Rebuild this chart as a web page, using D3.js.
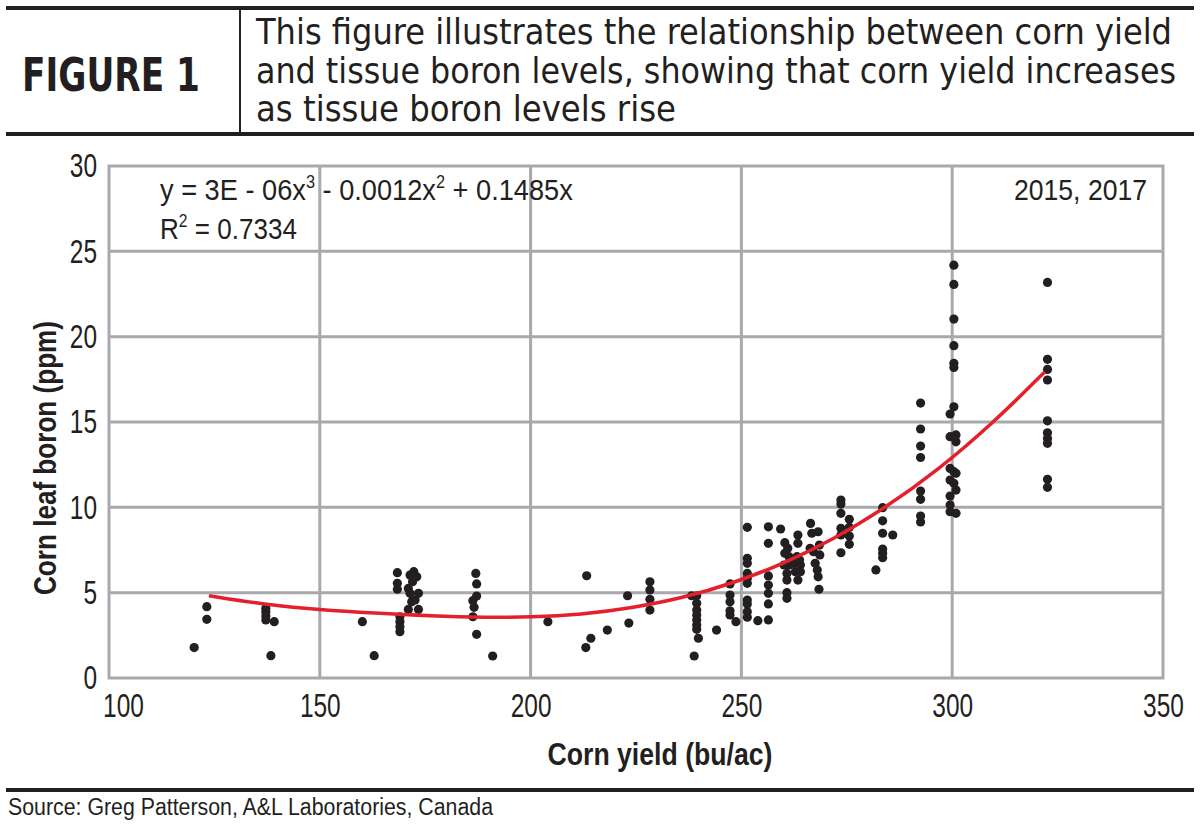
<!DOCTYPE html>
<html><head><meta charset="utf-8">
<script src="https://cdn.jsdelivr.net/npm/d3@7"></script>
<style>html,body{margin:0;padding:0;background:#fff;}svg{display:block;}</style>
</head><body>
<svg id="chart" width="1200" height="836"></svg>
<script>
// ---------- data ----------
const xTicks = [100, 150, 200, 250, 300, 350];
const yTicks = [0, 5, 10, 15, 20, 25, 30];

// Corn yield (bu/ac) and corn leaf boron (ppm), read point by point
const yieldBu = [
  120.2, 123.2, 123.2, 137.2, 137.2, 137.2, 137.2, 139.2, 138.4, 160.1, 162.9,
  168.4, 168.4, 168.4, 169.0, 169.0, 169.0, 169.0,
  171.4, 172.3, 173.0, 172.0, 171.0, 171.4, 173.4, 171.8, 172.6, 171.0, 173.4,
  187.0, 187.2, 187.2, 186.3, 186.6, 186.3, 187.2, 191.0,
  204.1, 213.3, 213.1, 214.3, 218.2, 223.0, 223.3, 228.3, 228.3, 228.3, 228.3,
  238.2, 239.4, 239.4, 239.4, 239.4, 239.4, 239.4, 239.4, 239.8, 238.8, 244.1,
  247.3, 247.3, 247.3, 247.3, 247.3, 248.7,
  251.4, 251.4, 251.4, 251.4, 251.4, 251.4, 251.4, 251.4, 251.4, 251.4, 253.9,
  256.4, 256.4, 256.4, 256.4, 256.4, 256.4, 256.4, 259.3,
  260.3, 261.0, 260.3, 261.3, 260.1, 261.3, 260.8, 260.8, 260.8, 260.8,
  263.4, 263.4, 263.2, 263.8, 262.4, 264.0, 262.8, 264.0, 263.4,
  266.4, 266.7, 268.2, 268.5, 266.3, 267.1, 268.6, 267.5, 268.0, 268.2, 268.4,
  273.6, 273.6, 273.6, 273.6, 273.6, 273.6, 275.6, 275.6, 275.6, 275.6, 281.9,
  283.5, 283.5, 283.5, 283.5, 283.5, 283.5, 285.9,
  292.5, 292.5, 292.5, 292.5, 292.5, 292.5, 292.5, 292.5,
  300.4, 300.4, 300.4, 300.4, 300.4, 300.4, 300.4, 299.5, 299.5, 300.9, 300.9,
  299.5, 300.4, 300.9, 299.5, 300.4, 300.9, 299.5, 299.5, 299.5, 300.9,
  322.6, 322.6, 322.6, 322.6, 322.6, 322.6, 322.6, 322.6, 322.6, 322.6
];
const boronPpm = [
  1.78, 4.18, 3.44, 4.08, 3.88, 3.63, 3.40, 3.30, 1.31, 3.30, 1.31,
  6.17, 5.55, 5.20, 3.59, 3.30, 3.01, 2.71,
  6.03, 6.23, 5.93, 5.64, 5.25, 4.96, 4.96, 4.47, 4.57, 4.02, 4.02,
  6.13, 5.51, 4.80, 4.53, 4.14, 3.59, 2.56, 1.29,
  3.30, 5.99, 1.78, 2.33, 2.81, 4.82, 3.22, 5.64, 5.16, 4.61, 3.98,
  4.82, 4.82, 4.38, 3.98, 3.69, 3.40, 3.10, 2.85, 2.33, 1.29, 2.81,
  5.51, 4.86, 4.47, 3.94, 3.69, 3.30,
  8.83, 7.01, 6.72, 6.13, 5.84, 5.55, 4.57, 4.34, 3.88, 3.56, 3.36,
  8.86, 7.89, 5.98, 5.45, 4.96, 4.34, 3.40, 8.73,
  7.93, 7.60, 7.31, 7.11, 6.62, 6.62, 6.13, 5.74, 5.00, 4.67,
  8.38, 7.89, 7.11, 6.91, 6.72, 6.62, 6.23, 6.23, 5.74,
  9.06, 8.48, 8.57, 7.79, 7.60, 7.40, 7.21, 6.72, 6.33, 5.93, 5.20,
  10.43, 10.19, 9.65, 8.77, 8.38, 7.34, 9.30, 8.83, 8.32, 7.83, 6.33,
  9.98, 9.21, 8.48, 7.56, 7.31, 7.05, 8.38,
  16.11, 14.59, 13.59, 12.92, 10.95, 10.47, 9.49, 9.14,
  24.19, 23.06, 21.03, 19.47, 18.44, 18.20, 15.89, 15.47, 14.14, 14.24, 13.84,
  12.28, 12.09, 11.99, 11.60, 11.41, 11.01, 10.66, 10.13, 9.74, 9.65,
  23.18, 18.67, 18.08, 17.46, 15.07, 14.37, 14.04, 13.75, 11.64, 11.17
];

// Trend line as drawn
const trendX = [123.7, 137, 150, 163, 176, 190, 200, 212, 224, 236, 248, 260, 272, 284, 296, 310, 322];
const trendY = [4.82, 4.30, 4.00, 3.80, 3.64, 3.55, 3.56, 3.72, 4.10, 4.68, 5.55, 6.70, 8.15, 9.95, 12.05, 15.00, 17.95];

const titleLines = [
  "This figure illustrates the relationship between corn yield",
  "and tissue boron levels, showing that corn yield increases",
  "as tissue boron levels rise"
];

// ---------- drawing ----------
const svg = d3.select("#chart");
const narrow = "'Liberation Sans Narrow','Arial Narrow','Liberation Sans',Arial,sans-serif";
const headFont = "'DejaVu Sans Condensed','Liberation Sans Narrow',sans-serif";
const ink = "#231f20";
const grid = "#a7a9ac";

// squeeze a text horizontally (narrow-font look) keeping its anchor
function condense(sel, k) {
  sel.each(function () {
    const w = this.getComputedTextLength();
    d3.select(this).attr("textLength", w * k).attr("lengthAdjust", "spacingAndGlyphs");
  });
}

const x = d3.scaleLinear().domain([100, 350]).range([109, 1163]);
const y = d3.scaleLinear().domain([0, 30]).range([678, 166]);

// header
svg.append("rect").attr("x", 6).attr("y", 6).attr("width", 1188).attr("height", 4).attr("fill", ink);
svg.append("rect").attr("x", 6).attr("y", 132).attr("width", 1188).attr("height", 4).attr("fill", ink);
svg.append("rect").attr("x", 239).attr("y", 10).attr("width", 2).attr("height", 122).attr("fill", ink);
svg.append("text").attr("x", 22).attr("y", 91).attr("font-family", headFont)
  .attr("font-weight", 900).attr("font-size", 46).attr("fill", ink)
  .attr("textLength", 178).attr("lengthAdjust", "spacingAndGlyphs").text("FIGURE 1");
const lineW = [916, 920, 420];
const lineY = [44, 83, 121];
titleLines.forEach((t, i) => {
  svg.append("text").attr("x", 256).attr("y", lineY[i]).attr("font-family", headFont)
    .attr("font-size", 35).attr("fill", ink)
    .attr("textLength", lineW[i]).attr("lengthAdjust", "spacingAndGlyphs").text(t);
});

// grid
const g = svg.append("g");
g.selectAll("line.v").data(xTicks.slice(1, -1)).join("line")
  .attr("x1", d => x(d)).attr("x2", d => x(d)).attr("y1", y(30)).attr("y2", y(0))
  .attr("stroke", grid).attr("stroke-width", 3);
g.selectAll("line.h").data(yTicks.slice(1, -1)).join("line")
  .attr("y1", d => y(d)).attr("y2", d => y(d)).attr("x1", x(100)).attr("x2", x(350))
  .attr("stroke", grid).attr("stroke-width", 3);
g.append("rect").attr("x", x(100)).attr("y", y(30)).attr("width", x(350) - x(100)).attr("height", y(0) - y(30))
  .attr("fill", "none").attr("stroke", grid).attr("stroke-width", 3);

// axes (labels only)
const xAxis = svg.append("g").attr("transform", `translate(0,${y(0)})`)
  .call(d3.axisBottom(x).tickValues(xTicks).tickSize(0).tickPadding(15));
const yAxis = svg.append("g").attr("transform", `translate(${x(100)},0)`)
  .call(d3.axisLeft(y).tickValues(yTicks).tickSize(0).tickPadding(12));
[xAxis, yAxis].forEach(a => {
  a.select(".domain").remove();
  a.selectAll("text").attr("font-family", narrow).attr("font-size", 34).attr("fill", ink);
});
xAxis.selectAll("text").attr("dy", "0.71em");
xAxis.selectAll("text").filter(d => d === 100).attr("dx", 14);
condense(xAxis.selectAll("text"), 0.72);
condense(yAxis.selectAll("text"), 0.72);

// axis titles
svg.append("text").attr("x", 660).attr("y", 765).attr("text-anchor", "middle")
  .attr("font-family", narrow).attr("font-weight", "bold").attr("font-size", 31).attr("fill", ink)
  .attr("textLength", 225).attr("lengthAdjust", "spacingAndGlyphs").text("Corn yield (bu/ac)");
svg.append("text").attr("transform", "translate(56,458) rotate(-90)").attr("text-anchor", "middle")
  .attr("font-family", narrow).attr("font-weight", "bold").attr("font-size", 31).attr("fill", ink)
  .attr("textLength", 274).attr("lengthAdjust", "spacingAndGlyphs").text("Corn leaf boron (ppm)");

// equation & years
function fitGroup(gx, gy, targetW, build) {
  const gg = svg.append("g");
  const t = gg.append("text").attr("x", 0).attr("y", 0).attr("font-family", narrow)
    .attr("font-size", 30).attr("fill", ink);
  build(t);
  const w = t.node().getBBox().width;
  gg.attr("transform", `translate(${gx},${gy}) scale(${targetW / w},1)`);
  return gg;
}
fitGroup(160, 200, 413, t => {
  t.append("tspan").text("y = 3E - 06x");
  t.append("tspan").attr("font-size", 18).attr("dy", -12).text("3");
  t.append("tspan").attr("dy", 12).text(" - 0.0012x");
  t.append("tspan").attr("font-size", 18).attr("dy", -12).text("2");
  t.append("tspan").attr("dy", 12).text(" + 0.1485x");
});
fitGroup(160, 239, 137, t => {
  t.append("tspan").text("R");
  t.append("tspan").attr("font-size", 18).attr("dy", -12).text("2");
  t.append("tspan").attr("dy", 12).text(" = 0.7334");
});
svg.append("text").attr("x", 1147).attr("y", 200).attr("text-anchor", "end").attr("font-family", narrow)
  .attr("font-size", 30).attr("fill", ink)
  .attr("textLength", 133).attr("lengthAdjust", "spacingAndGlyphs").text("2015, 2017");

// points
svg.append("g").selectAll("circle").data(d3.range(yieldBu.length)).join("circle")
  .attr("cx", i => x(yieldBu[i])).attr("cy", i => y(boronPpm[i])).attr("r", 4.6).attr("fill", ink);

// trend line
const line = d3.line().x(i => x(trendX[i])).y(i => y(trendY[i])).curve(d3.curveBasis);
svg.append("path").attr("d", line(d3.range(trendX.length))).attr("fill", "none")
  .attr("stroke", "#e3202b").attr("stroke-width", 3.5);

// footer
svg.append("rect").attr("x", 6).attr("y", 788).attr("width", 1188).attr("height", 4).attr("fill", ink);
svg.append("text").attr("x", 8).attr("y", 815).attr("font-family", narrow).attr("font-size", 23)
  .attr("fill", ink).attr("textLength", 485).attr("lengthAdjust", "spacingAndGlyphs")
  .text("Source: Greg Patterson, A&L Laboratories, Canada");
</script>
</body></html>
